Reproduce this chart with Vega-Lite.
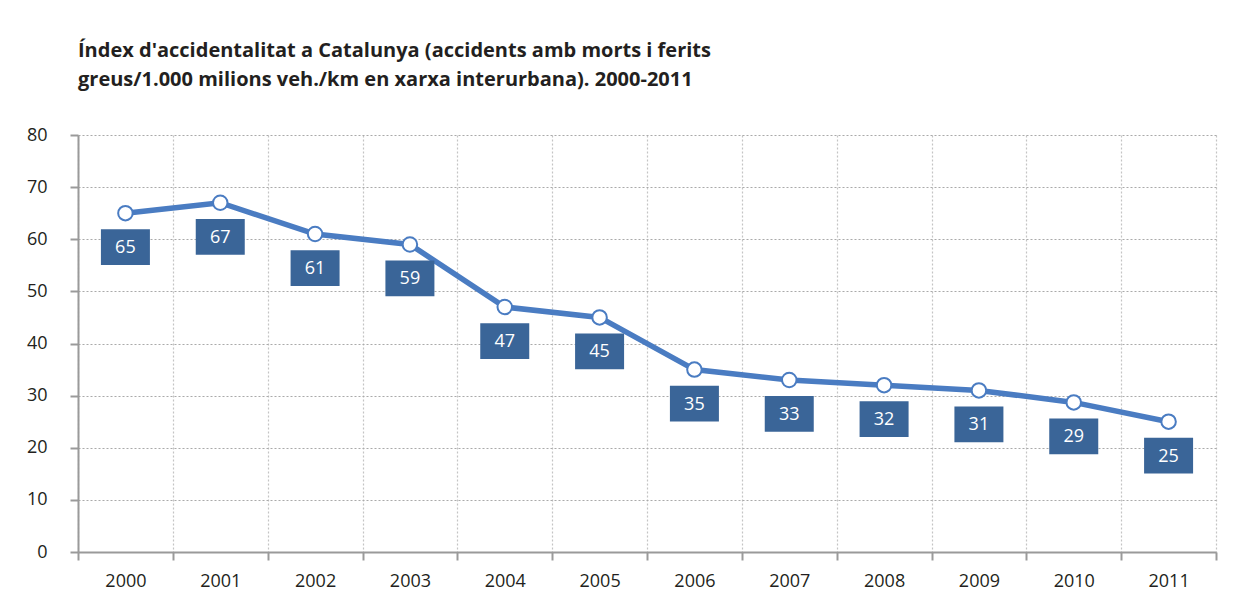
{
  "$schema": "https://vega.github.io/schema/vega-lite/v6.json",
  "width": 1138,
  "height": 417,
  "autosize": {"type": "none"},
  "padding": {"left": 78, "top": 135, "right": 32, "bottom": 54},
  "background": "white",
  "config": {
    "view": {"stroke": null},
    "font": "Open Sans"
  },
  "title": {
    "text": ["Índex d'accidentalitat a Catalunya (accidents amb morts i ferits", "greus/1.000 milions veh./km en xarxa interurbana). 2000-2011"],
    "anchor": "start",
    "frame": "group",
    "fontSize": 20,
    "fontWeight": "bold",
    "color": "#231F20",
    "lineHeight": 29,
    "offset": 36
  },
  "data": {
    "values": [
      {"year": "2000", "value": 65, "label": "65"},
      {"year": "2001", "value": 67, "label": "67"},
      {"year": "2002", "value": 61, "label": "61"},
      {"year": "2003", "value": 59, "label": "59"},
      {"year": "2004", "value": 47, "label": "47"},
      {"year": "2005", "value": 45, "label": "45"},
      {"year": "2006", "value": 35, "label": "35"},
      {"year": "2007", "value": 33, "label": "33"},
      {"year": "2008", "value": 32, "label": "32"},
      {"year": "2009", "value": 31, "label": "31"},
      {"year": "2010", "value": 28.7, "label": "29"},
      {"year": "2011", "value": 25, "label": "25"}
    ]
  },
  "encoding": {
    "x": {
      "field": "year",
      "type": "ordinal",
      "bandPosition": 0.5,
      "scale": {"type": "band", "paddingInner": 0, "paddingOuter": 0},
      "axis": {
        "title": null,
        "labelAngle": 0,
        "tickBand": "extent",
        "labelFontSize": 18,
        "labelColor": "#231F20",
        "labelPadding": 12,
        "domainColor": "#9A9A9A",
        "domainWidth": 2,
        "tickColor": "#9A9A9A",
        "tickWidth": 2,
        "tickSize": 8,
        "grid": true,
        "gridColor": "#C4C4C4",
        "gridDash": [2, 2],
        "gridWidth": 1.2
      }
    },
    "y": {
      "field": "value",
      "type": "quantitative",
      "scale": {"domain": [0, 80], "nice": false},
      "axis": {
        "title": null,
        "values": [0, 10, 20, 30, 40, 50, 60, 70, 80],
        "labelFontSize": 18,
        "labelColor": "#231F20",
        "labelPadding": 23,
        "domainColor": "#9A9A9A",
        "domainWidth": 2,
        "tickColor": "#9A9A9A",
        "tickWidth": 2,
        "tickSize": 8,
        "grid": true,
        "gridColor": "#AAAAAA",
        "gridDash": [2, 2],
        "gridWidth": 1.2
      }
    }
  },
  "layer": [
    {"mark": {"type": "line", "color": "#4A7CC2", "strokeWidth": 5.5}},
    {"mark": {"type": "point", "filled": true, "fill": "white", "stroke": "#4A7CC2", "strokeWidth": 2, "size": 210, "opacity": 1}},
    {"mark": {"type": "point", "shape": "M-1,-0.73L1,-0.73L1,0.73L-1,0.73Z", "size": 2401, "filled": true, "fill": "#3A6598", "strokeWidth": 0, "opacity": 1, "yOffset": 34}},
    {"mark": {"type": "text", "color": "white", "fontSize": 18, "baseline": "middle", "align": "center", "yOffset": 35}, "encoding": {"text": {"field": "label"}}}
  ]
}
